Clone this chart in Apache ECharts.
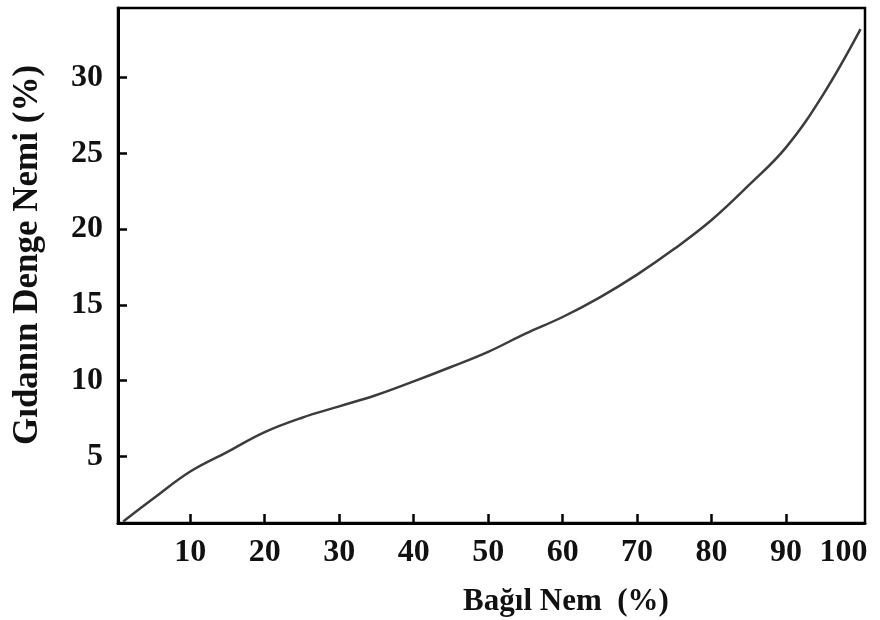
<!DOCTYPE html>
<html>
<head>
<meta charset="utf-8">
<script src="https://cdn.jsdelivr.net/npm/echarts@6/dist/echarts.min.js"></script>
<style>
html,body{margin:0;padding:0;background:#fff;}
#chart{width:880px;height:620px;}
</style>
</head>
<body>
<div id="chart"></div>
<script>
// Data
var relHumidity = [1, 5, 10, 15, 20, 25, 30, 35, 40, 45, 50, 55, 60, 65, 70, 75, 80, 85, 90, 95, 100];
var eqMoisture  = [0.7, 2.2, 4.0, 5.3, 6.6, 7.55, 8.3, 9.05, 9.95, 10.9, 11.9, 13.1, 14.2, 15.5, 17.0, 18.7, 20.6, 22.9, 25.4, 28.9, 33.2];
var xTickLabels = [10, 20, 30, 40, 50, 60, 70, 80, 90, 100];
var xTicks = [10, 20, 30, 40, 50, 60, 70, 80, 90];
var yTickLabels = [5, 10, 15, 20, 25, 30];
var xTitle = 'Bağıl Nem  (%)';
var yTitle = 'Gıdanın Denge Nemi (%)';

var pts = relHumidity.map(function (x, i) { return [x, eqMoisture[i]]; });
var font = 'Liberation Serif';

var chart = echarts.init(document.getElementById('chart'), null, {renderer: 'canvas'});
chart.setOption({
  animation: false,
  backgroundColor: '#ffffff',
  grid: {
    left: 118, right: 15, top: 8, bottom: 97,
    show: true, borderColor: '#000', borderWidth: 2.5, backgroundColor: 'transparent'
  },
  xAxis: {
    type: 'value', min: 0.3, max: 100.6,
    axisLine: {show: true, lineStyle: {color: '#000', width: 3}},
    axisTick: {show: true, inside: true, length: 9, lineStyle: {color: '#000', width: 2.5}, customValues: xTicks},
    axisLabel: {
      customValues: xTickLabels, margin: 14,
      color: '#111', fontFamily: font, fontWeight: 'bold', fontSize: 32,
      formatter: function (v) { return v === 100 ? '{r|100}' : String(v); },
      rich: {r: {fontFamily: font, fontWeight: 'bold', fontSize: 32, color: '#111', padding: [0, 34, 0, 0]}}
    },
    splitLine: {show: false}
  },
  yAxis: {
    type: 'value', min: 0.6, max: 34.6,
    axisLine: {show: true, lineStyle: {color: '#000', width: 3}},
    axisTick: {show: true, inside: true, length: 9, lineStyle: {color: '#000', width: 2.5}, customValues: yTickLabels},
    axisLabel: {
      customValues: yTickLabels, margin: 15,
      color: '#111', fontFamily: font, fontWeight: 'bold', fontSize: 32
    },
    splitLine: {show: false}
  },
  series: [{
    type: 'line', data: pts, smooth: 0.4, showSymbol: false,
    lineStyle: {color: '#3c3c3c', width: 2.5}
  }],
  graphic: [
    {type: 'text', x: 566, y: 602, style: {text: xTitle, font: 'bold 31px "Liberation Serif"', fill: '#111', textAlign: 'center', textVerticalAlign: 'middle'}},
    {type: 'text', x: 28, y: 255, rotation: Math.PI / 2, style: {text: yTitle, font: 'bold 35px "Liberation Serif"', fill: '#111', textAlign: 'center', textVerticalAlign: 'middle'}}
  ]
});
</script>
</body>
</html>
